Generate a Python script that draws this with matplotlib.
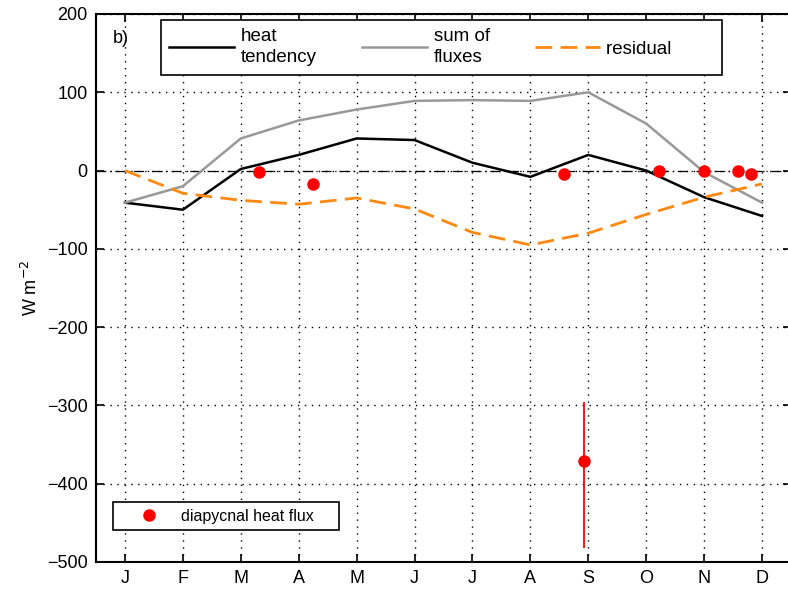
import matplotlib
matplotlib.use("Agg")
import matplotlib.pyplot as plt
import numpy as np

plt.rcParams['font.family'] = ['Liberation Sans', 'DejaVu Sans']

## data
months = np.arange(1, 13)
month_labels = ['J', 'F', 'M', 'A', 'M', 'J', 'J', 'A', 'S', 'O', 'N', 'D']

heat_tendency = [-41, -50, 2, 20, 41, 39, 10, -8, 20, 0, -34, -58]
sum_of_fluxes = [-41, -20, 41, 64, 78, 89, 90, 89, 100, 60, -2, -41]
residual = [0, -29, -38, -43, -35, -49, -79, -95, -80, -56, -34, -17]

diap_month = [3.32, 4.24, 8.58, 8.92, 10.22, 10.99, 11.58, 11.81]
diap_flux = [-2, -17, -4, -371, -1, 0, -1, -4]
diap_err_lo = [0, 0, 0, 111, 0, 0, 0, 0]
diap_err_hi = [0, 0, 0, 76, 0, 0, 0, 0]

orange = '#ff8811'

fig = plt.figure(figsize=(7.88, 5.89), dpi=100)
W, H = 788., 589.
ax = fig.add_axes([96/W, 1 - 562/H, (791 - 96)/W, (562 - 14)/H])

# grid + zero line
ax.grid(True, color='k', linestyle=(0, (1, 4)), linewidth=1.0)
ax.axhline(0, color='k', linestyle=(0, (8, 3, 1, 3)), linewidth=0.9, zorder=1.5)

l1, = ax.plot(months, heat_tendency, color='k', lw=1.8, label='heat\ntendency')
l2, = ax.plot(months, sum_of_fluxes, color='#999999', lw=1.8, label='sum of\nfluxes')
l3, = ax.plot(months, residual, color=orange, lw=2.0, dashes=(6, 3), label='residual        ')

ax.errorbar(diap_month, diap_flux, yerr=[diap_err_lo, diap_err_hi], fmt='o',
            color='red', ms=8, elinewidth=1.3, capsize=0, zorder=5)
l4, = ax.plot([], [], 'o', color='red', ms=8, label='diapycnal heat flux    ')

ax.set_xlim(0.5, 12.5)
ax.set_ylim(-500, 200)
ax.set_xticks(months)
ax.set_xticklabels(month_labels)
ax.set_yticks(np.arange(-500, 201, 100))
ax.set_yticklabels(['\u2212500', '\u2212400', '\u2212300', '\u2212200', '\u2212100', '0', '100', '200'])
ax.tick_params(direction='in', length=6, width=1.2, top=True, right=True,
               labelsize=13, pad=6)
for s in ax.spines.values():
    s.set_linewidth(1.5)

ax.set_ylabel('W m$^{-2}$', fontsize=13, labelpad=4)
ax.text(0.024, 0.955, 'b)', transform=ax.transAxes, fontsize=13, va='center')

leg1 = ax.legend(handles=[l1, l2, l3], loc='upper left', ncol=3,
                 bbox_to_anchor=(161/W, 1 - 20/H), bbox_transform=fig.transFigure,
                 borderaxespad=0, fontsize=13.5, fancybox=False, framealpha=1,
                 edgecolor='k', handlelength=3.45, handletextpad=0.37,
                 columnspacing=2.4, borderpad=0.45, labelspacing=0.1)
for t in leg1.get_texts():
    t.set_linespacing(1.3)
leg1.get_frame().set_linewidth(1.2)
ax.add_artist(leg1)

leg2 = ax.legend(handles=[l4], loc='upper left',
                 bbox_to_anchor=(113/W, 1 - 502/H), bbox_transform=fig.transFigure,
                 borderaxespad=0, fontsize=11.5, fancybox=False, framealpha=1,
                 edgecolor='k', handlelength=3.7, handletextpad=0.16, borderpad=0.42)
leg2.get_frame().set_linewidth(1.2)

fig.savefig('out.png', dpi=100)
